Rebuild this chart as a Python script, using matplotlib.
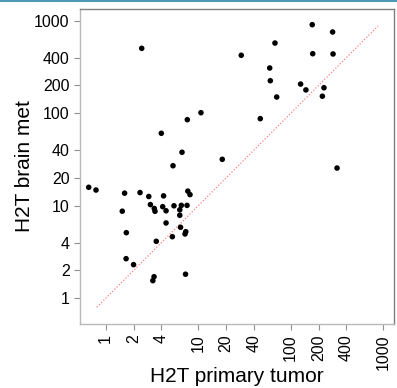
import matplotlib
matplotlib.use("Agg")
import matplotlib.pyplot as plt
from matplotlib.lines import Line2D

plt.rcParams['font.family'] = ['Liberation Sans', 'DejaVu Sans']

# H2T values (primary tumor vs brain met)
primary = [2.45, 3.99, 5.34, 6.68, 7.62, 10.7, 0.655, 0.785, 1.60, 2.35,
           2.92, 4.22, 7.72, 8.15, 171, 284, 67.6, 29.2, 173, 287,
           59.3, 60.2, 128, 146, 229, 220, 70.6, 46.9, 18.2, 317,
           1.51, 3.04, 3.35, 3.41, 4.13, 4.49, 5.47, 6.57, 7.57, 6.32,
           6.32, 4.49, 1.67, 6.44, 7.34, 7.2, 5.25, 3.52, 1.66, 2.0,
           3.33, 3.23, 7.29]
brain_met = [504, 60.8, 27.1, 37.9, 85.3, 101.5, 15.85, 14.8, 13.7, 13.9,
             12.6, 12.8, 14.4, 13.2, 908, 757, 575, 424, 441, 438,
             309, 225, 207, 179, 189, 153, 150, 87.5, 31.8, 25.6,
             8.74, 10.3, 9.35, 8.72, 9.78, 8.83, 10.0, 10.1, 10.1, 9.05,
             7.9, 6.52, 5.12, 5.86, 5.25, 4.96, 4.63, 4.13, 2.68, 2.31,
             1.71, 1.55, 1.82]

# identity line ends
diag = [0.8, 880]

ticks = [1, 2, 4, 10, 20, 40, 100, 200, 400, 1000]
tick_labels = [str(t) for t in ticks]

fig = plt.figure(figsize=(3.97, 3.88), dpi=100)
ax = fig.add_axes([80 / 397, 1 - 324 / 388, 314 / 397, 315 / 388])

ax.scatter(primary, brain_met, s=16, color='black', edgecolors='none', zorder=3)
ax.plot(diag, diag, color='#ff8080', linestyle=(0, (1, 1.5)), linewidth=0.9)

ax.set_xscale('log')
ax.set_yscale('log')
ax.set_xlim(0.527, 1309)
ax.set_ylim(0.527, 1342)

ax.set_xticks(ticks)
ax.set_xticklabels(tick_labels, rotation=90)
ax.set_yticks(ticks)
ax.set_yticklabels(tick_labels)
ax.minorticks_off()
ax.tick_params(axis='both', length=4.5, width=0.8, color='#909090',
               labelsize=11.5, pad=3)

for side in ['top', 'right']:
    ax.spines[side].set_color('#808080')
for side in ['left', 'bottom']:
    ax.spines[side].set_color('#b8b8b8')
for sp in ax.spines.values():
    sp.set_linewidth(1.0)

# axis titles placed like R's mtext lines
fig.text(237 / 397, 1 - 382 / 388, 'H2T primary tumor', fontsize=15,
         ha='center', va='baseline')
fig.text(25 / 397, 1 - 166 / 388, 'H2T brain met', fontsize=15,
         rotation=90, ha='center', va='center')

# thin teal rule across the top of the image
fig.add_artist(Line2D([0, 1], [1 - 0.8 / 388, 1 - 0.8 / 388],
                      color='#4e9ab6', linewidth=1.5, transform=fig.transFigure))

fig.savefig('out.png', dpi=100)
